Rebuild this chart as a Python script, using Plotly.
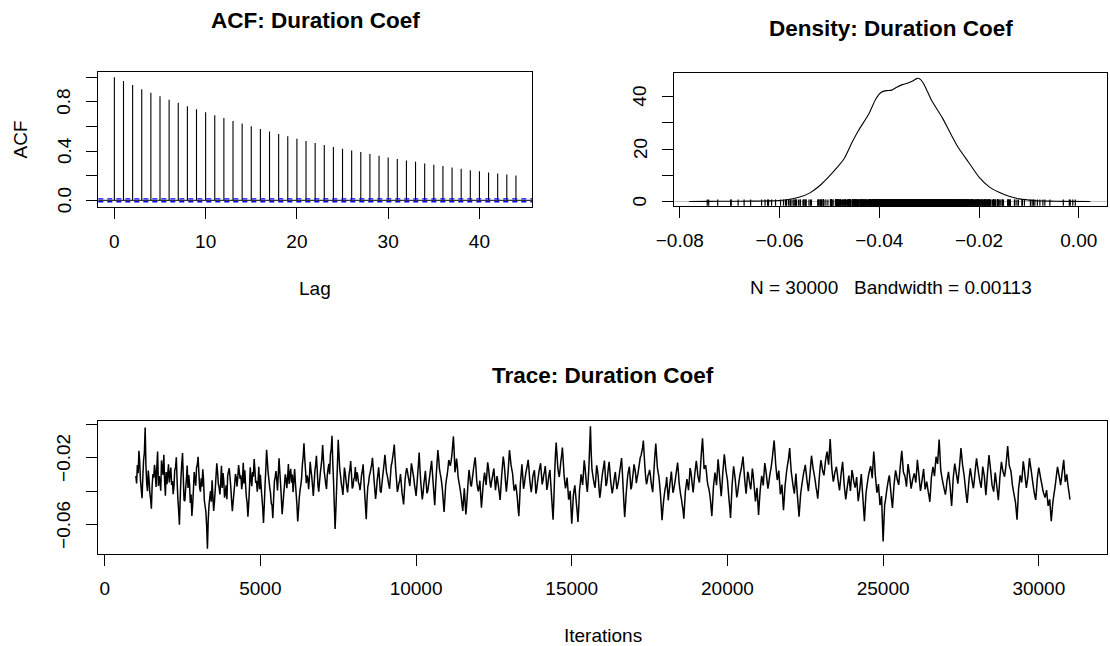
import plotly.graph_objects as go

# ---------------- data ----------------
acf_lags = list(range(0, 45))
acf_values = [1.000, 0.969, 0.936, 0.903, 0.873, 0.846, 0.816, 0.792, 0.765, 0.740,
              0.716, 0.691, 0.669, 0.645, 0.623, 0.601, 0.580, 0.558, 0.539, 0.520,
              0.501, 0.482, 0.465, 0.449, 0.433, 0.419, 0.405, 0.392, 0.376, 0.362,
              0.348, 0.335, 0.324, 0.313, 0.299, 0.288, 0.278, 0.267, 0.256, 0.245,
              0.237, 0.226, 0.218, 0.210, 0.201]
acf_clim = 0.0113

dens_x = [-0.0781, -0.0740, -0.0700, -0.0660, -0.0620, -0.0589, -0.0561, -0.0539, -0.0519, -0.0502,
          -0.0484, -0.0470, -0.0456, -0.0442, -0.0421, -0.0407, -0.0396, -0.0386, -0.0375, -0.0365,
          -0.0354, -0.0344, -0.0333, -0.0324, -0.0317, -0.0309, -0.0295, -0.0274, -0.0260, -0.0242,
          -0.0221, -0.0200, -0.0179, -0.0161, -0.0140, -0.0119, -0.0091, -0.0060, -0.0030, 0.0023]
dens_y = [0.0, 0.05, 0.1, 0.15, 0.25, 0.6, 1.6, 3.3, 6.1, 9.3,
          13.1, 16.5, 22.0, 27.0, 33.4, 39.1, 41.7, 42.3, 42.5, 43.6,
          44.6, 45.1, 46.0, 47.0, 46.5, 44.2, 38.5, 32.1, 27.0, 20.7,
          15.0, 9.3, 5.5, 3.6, 2.0, 1.0, 0.4, 0.15, 0.05, 0.0]
rug_tails = [-0.0745, -0.0724, -0.0697, -0.0683, -0.0671, -0.0658, -0.0636, -0.0629, -0.0622, -0.0616,
             -0.0078, -0.0058, -0.0031, -0.0017, -0.0007]

# trace samples read on a 50-iteration grid ...
iterations_a = [1001] + list(range(1050, 31001, 50))
trace_values_a = [
    -0.0307,
    -0.0243, -0.0158, -0.0336, -0.0441, -0.0214, -0.0019, -0.0352, -0.0275, -0.0408, -0.0503, -0.0297, -0.0241, -0.0374, -0.0162, -0.0309, -0.0396, -0.0263, -0.0181, -0.0425, -0.0357,
    -0.0238, -0.0294, -0.0361, -0.0417, -0.0272, -0.0196, -0.0443, -0.0598, -0.0315, -0.0171, -0.0452, -0.0384, -0.0246, -0.0303, -0.0469, -0.0547, -0.0392, -0.0335, -0.0257, -0.0193,
    -0.0377, -0.0322, -0.0268, -0.0454, -0.0521, -0.0742, -0.0483, -0.0398, -0.0334, -0.0516, -0.0389, -0.0232, -0.0355, -0.0418, -0.0247, -0.0291, -0.0437, -0.0364, -0.0306, -0.0262,
    -0.0373, -0.0518, -0.0412, -0.0296, -0.0371, -0.0243, -0.0325, -0.0387, -0.0229, -0.0274, -0.0433, -0.0551, -0.0379, -0.0328, -0.0284, -0.0207, -0.0349, -0.0402, -0.0253, -0.0301,
    -0.0436, -0.0588, -0.0363, -0.0152, -0.0289, -0.0376, -0.0471, -0.0559, -0.0342, -0.0278, -0.0394, -0.0203, -0.0357, -0.0536, -0.0413, -0.0298, -0.0381, -0.0237, -0.0292, -0.0348,
    -0.0404, -0.0266, -0.0415, -0.0579, -0.0438, -0.0362, -0.0239, -0.0113, -0.0273, -0.0305, -0.0386, -0.0224, -0.0312, -0.0427, -0.0281, -0.0188, -0.0366, -0.0343, -0.0251, -0.0124,
    -0.0283, -0.0358, -0.0301, -0.0236, -0.0178, -0.0068, -0.0339, -0.0624, -0.0376, -0.0092, -0.0269, -0.0353, -0.0421, -0.0258, -0.0334, -0.0406, -0.0297, -0.0219, -0.0383, -0.0327,
    -0.0254, -0.0286, -0.0347, -0.0393, -0.0302, -0.0238, -0.0414, -0.0566, -0.0372, -0.0308, -0.0263, -0.0199, -0.0331, -0.0445, -0.0337, -0.0256, -0.0398, -0.0362, -0.0274, -0.0182,
    -0.0287, -0.0332, -0.0384, -0.0248, -0.0196, -0.0121, -0.0279, -0.0403, -0.0351, -0.0296, -0.0409, -0.0478, -0.0326, -0.0261, -0.0314, -0.0368, -0.0233, -0.0289, -0.0359, -0.0427,
    -0.0304, -0.0168, -0.0343, -0.0448, -0.0356, -0.0277, -0.0411, -0.0363, -0.0292, -0.0218, -0.0354, -0.0482, -0.0299, -0.0153, -0.0264, -0.0318, -0.0397, -0.0523, -0.0366, -0.0302,
    -0.0213, -0.0247, -0.0184, -0.0072, -0.0286, -0.0204, -0.0313, -0.0369, -0.0432, -0.0517, -0.0381, -0.0538, -0.0407, -0.0272, -0.0358, -0.0334, -0.0259, -0.0197, -0.0341, -0.0399,
    -0.0336, -0.0497, -0.0373, -0.0288, -0.0362, -0.0226, -0.0304, -0.0378, -0.0317, -0.0263, -0.0392, -0.0309, -0.0374, -0.0451, -0.0306, -0.0192, -0.0281, -0.0401, -0.0297, -0.0154,
    -0.0242, -0.0293, -0.0396, -0.0358, -0.0434, -0.0548, -0.0352, -0.0238, -0.0384, -0.0323, -0.0267, -0.0212, -0.0329, -0.0405, -0.0311, -0.0273, -0.0413, -0.0346, -0.0279, -0.0232,
    -0.0358, -0.0303, -0.0249, -0.0391, -0.0327, -0.0271, -0.0422, -0.0569, -0.0302, -0.0109, -0.0253, -0.0314, -0.0221, -0.0138, -0.0294, -0.0382, -0.0318, -0.0449, -0.0396, -0.0592,
    -0.0428, -0.0364, -0.0473, -0.0582, -0.0393, -0.0298, -0.0361, -0.0214, -0.0307, -0.0403, -0.0258, -0.0012, -0.0269, -0.0332, -0.0378, -0.0244, -0.0311, -0.0438, -0.0353, -0.0276,
    -0.0216, -0.0368, -0.0308, -0.0223, -0.0339, -0.0412, -0.0347, -0.0284, -0.0386, -0.0338, -0.0268, -0.0201, -0.0377, -0.0553, -0.0409, -0.0301, -0.0252, -0.0388, -0.0326, -0.0239,
    -0.0292, -0.0319, -0.0262, -0.0198, -0.0163, -0.0097, -0.0254, -0.0357, -0.0303, -0.0271, -0.0346, -0.0404, -0.0243, -0.0114, -0.0257, -0.0312, -0.0419, -0.0571, -0.0457, -0.0384,
    -0.0314, -0.0453, -0.0359, -0.0282, -0.0408, -0.0363, -0.0296, -0.0228, -0.0351, -0.0423, -0.0484, -0.0562, -0.0398, -0.0327, -0.0393, -0.0261, -0.0322, -0.0406, -0.0299, -0.0217,
    -0.0306, -0.0347, -0.0209, -0.0083, -0.0266, -0.0243, -0.0334, -0.0381, -0.0442, -0.0547, -0.0376, -0.0287, -0.0363, -0.0208, -0.0316, -0.0429, -0.0291, -0.0179, -0.0272, -0.0331,
    -0.0447, -0.0558, -0.0362, -0.0251, -0.0328, -0.0436, -0.0374, -0.0303, -0.0259, -0.0192, -0.0319, -0.0414, -0.0283, -0.0336, -0.0387, -0.0264, -0.0351, -0.0459, -0.0379, -0.0541,
    -0.0398, -0.0307, -0.0364, -0.0231, -0.0298, -0.0383, -0.0318, -0.0262, -0.0186, -0.0096, -0.0238, -0.0332, -0.0276, -0.0417, -0.0359, -0.0512, -0.0368, -0.0281, -0.0223, -0.0141,
    -0.0284, -0.0357, -0.0413, -0.0293, -0.0431, -0.0551, -0.0418, -0.0349, -0.0288, -0.0242, -0.0327, -0.0399, -0.0302, -0.0187, -0.0261, -0.0313, -0.0381, -0.0443, -0.0319, -0.0214,
    -0.0268, -0.0304, -0.0218, -0.0163, -0.0241, -0.0088, -0.0257, -0.0342, -0.0286, -0.0253, -0.0329, -0.0394, -0.0297, -0.0224, -0.0362, -0.0448, -0.0371, -0.0306, -0.0397, -0.0273,
    -0.0332, -0.0377, -0.0314, -0.0458, -0.0389, -0.0296, -0.0436, -0.0577, -0.0412, -0.0343, -0.0287, -0.0249, -0.0321, -0.0162, -0.0303, -0.0408, -0.0356, -0.0482, -0.0428, -0.0698,
    -0.0479, -0.0418, -0.0353, -0.0304, -0.0407, -0.0498, -0.0362, -0.0274, -0.0326, -0.0361, -0.0252, -0.0158, -0.0283, -0.0308, -0.0372, -0.0237, -0.0301, -0.0384, -0.0328, -0.0292,
    -0.0347, -0.0212, -0.0303, -0.0397, -0.0334, -0.0266, -0.0388, -0.0341, -0.0403, -0.0462, -0.0318, -0.0254, -0.0309, -0.0193, -0.0236, -0.0091, -0.0272, -0.0329, -0.0376, -0.0419,
    -0.0338, -0.0283, -0.0369, -0.0487, -0.0323, -0.0234, -0.0291, -0.0354, -0.0258, -0.0142, -0.0239, -0.0302, -0.0392, -0.0468, -0.0348, -0.0262, -0.0327, -0.0381, -0.0289, -0.0203,
    -0.0271, -0.0333, -0.0378, -0.0252, -0.0309, -0.0423, -0.0297, -0.0183, -0.0268, -0.0364, -0.0401, -0.0288, -0.0367, -0.0452, -0.0316, -0.0224, -0.0281, -0.0312, -0.0237, -0.0129,
    -0.0244, -0.0273, -0.0358, -0.0414, -0.0463, -0.0568, -0.0386, -0.0304, -0.0347, -0.0221, -0.0294, -0.0379, -0.0313, -0.0202, -0.0267, -0.0339, -0.0404, -0.0451, -0.0326, -0.0258,
    -0.0312, -0.0359, -0.0408, -0.0437, -0.0392, -0.0486, -0.0447, -0.0578, -0.0469, -0.0401, -0.0331, -0.0253, -0.0306, -0.0363, -0.0287, -0.0212, -0.0343, -0.0298, -0.0381, -0.0449,
]
# ... and the samples in between (iterations 1025, 1075, ..., 30975)
iterations_b = list(range(1025, 31000, 50))
trace_values_b = [
    -0.0352, -0.0291, -0.0227, -0.0389, -0.0312, -0.0168, -0.0246, -0.0398, -0.0331, -0.0447, -0.0362, -0.0318, -0.0289, -0.0253, -0.0367, -0.0341, -0.0215, -0.0302, -0.0336, -0.0284,
    -0.0296, -0.0347, -0.0258, -0.0338, -0.0371, -0.0259, -0.0333, -0.0512, -0.0442, -0.0236, -0.0317, -0.0458, -0.0325, -0.0379, -0.0356, -0.0418, -0.0481, -0.0284, -0.0366, -0.0241,
    -0.0289, -0.0401, -0.0372, -0.0331, -0.0487, -0.0608, -0.0573, -0.0437, -0.0461, -0.0428, -0.0462, -0.0311, -0.0284, -0.0376, -0.0352, -0.0379, -0.0338, -0.0412, -0.0447, -0.0283,
    -0.0314, -0.0452, -0.0463, -0.0357, -0.0319, -0.0318, -0.0284, -0.0304, -0.0346, -0.0352, -0.0361, -0.0468, -0.0474, -0.0256, -0.0369, -0.0312, -0.0271, -0.0336, -0.0348, -0.0387,
    -0.0376, -0.0497, -0.0484, -0.0266, -0.0222, -0.0331, -0.0409, -0.0483, -0.0447, -0.0316, -0.0327, -0.0298, -0.0284, -0.0447, -0.0479, -0.0361, -0.0326, -0.0318, -0.0356, -0.0265,
    -0.0299, -0.0338, -0.0349, -0.0484, -0.0512, -0.0391, -0.0318, -0.0192, -0.0204, -0.0351, -0.0322, -0.0317, -0.0274, -0.0366, -0.0358, -0.0242, -0.0268, -0.0402, -0.0291, -0.0207,
    -0.0206, -0.0317, -0.0386, -0.0264, -0.0297, -0.0151, -0.0226, -0.0487, -0.0507, -0.0243, -0.0181, -0.0308, -0.0381, -0.0349, -0.0289, -0.0372, -0.0353, -0.0268, -0.0294, -0.0371,
    -0.0318, -0.0341, -0.0302, -0.0358, -0.0351, -0.0277, -0.0326, -0.0487, -0.0449, -0.0351, -0.0289, -0.0241, -0.0262, -0.0386, -0.0401, -0.0297, -0.0321, -0.0408, -0.0316, -0.0231,
    -0.0233, -0.0304, -0.0362, -0.0317, -0.0229, -0.0163, -0.0202, -0.0336, -0.0382, -0.0336, -0.0352, -0.0441, -0.0402, -0.0287, -0.0282, -0.0339, -0.0304, -0.0258, -0.0318, -0.0391,
    -0.0371, -0.0241, -0.0262, -0.0396, -0.0412, -0.0318, -0.0347, -0.0398, -0.0328, -0.0254, -0.0286, -0.0419, -0.0386, -0.0227, -0.0201, -0.0293, -0.0352, -0.0461, -0.0447, -0.0328,
    -0.0262, -0.0229, -0.0221, -0.0128, -0.0167, -0.0253, -0.0246, -0.0341, -0.0398, -0.0476, -0.0452, -0.0463, -0.0481, -0.0336, -0.0308, -0.0371, -0.0297, -0.0224, -0.0262, -0.0378,
    -0.0372, -0.0421, -0.0436, -0.0327, -0.0322, -0.0294, -0.0256, -0.0347, -0.0342, -0.0289, -0.0327, -0.0352, -0.0338, -0.0412, -0.0379, -0.0248, -0.0226, -0.0346, -0.0353, -0.0228,
    -0.0196, -0.0268, -0.0348, -0.0381, -0.0392, -0.0497, -0.0461, -0.0298, -0.0306, -0.0362, -0.0291, -0.0243, -0.0264, -0.0368, -0.0362, -0.0289, -0.0336, -0.0388, -0.0313, -0.0254,
    -0.0294, -0.0337, -0.0281, -0.0313, -0.0368, -0.0294, -0.0348, -0.0496, -0.0452, -0.0188, -0.0176, -0.0289, -0.0271, -0.0187, -0.0211, -0.0343, -0.0356, -0.0381, -0.0434, -0.0497,
    -0.0516, -0.0392, -0.0418, -0.0521, -0.0497, -0.0351, -0.0327, -0.0292, -0.0253, -0.0362, -0.0341, -0.0137, -0.0171, -0.0302, -0.0359, -0.0317, -0.0273, -0.0379, -0.0406, -0.0311,
    -0.0249, -0.0293, -0.0352, -0.0261, -0.0278, -0.0376, -0.0384, -0.0311, -0.0337, -0.0364, -0.0303, -0.0236, -0.0282, -0.0471, -0.0486, -0.0353, -0.0276, -0.0318, -0.0371, -0.0287,
    -0.0263, -0.0351, -0.0297, -0.0231, -0.0187, -0.0139, -0.0178, -0.0316, -0.0338, -0.0296, -0.0301, -0.0378, -0.0326, -0.0171, -0.0189, -0.0288, -0.0364, -0.0493, -0.0512, -0.0417,
    -0.0362, -0.0387, -0.0404, -0.0321, -0.0346, -0.0391, -0.0331, -0.0262, -0.0286, -0.0389, -0.0447, -0.0512, -0.0478, -0.0364, -0.0358, -0.0334, -0.0281, -0.0367, -0.0354, -0.0258,
    -0.0257, -0.0328, -0.0282, -0.0142, -0.0168, -0.0259, -0.0282, -0.0364, -0.0408, -0.0496, -0.0461, -0.0331, -0.0322, -0.0287, -0.0259, -0.0372, -0.0368, -0.0236, -0.0221, -0.0302,
    -0.0388, -0.0497, -0.0461, -0.0302, -0.0287, -0.0381, -0.0412, -0.0337, -0.0281, -0.0226, -0.0254, -0.0368, -0.0352, -0.0297, -0.0364, -0.0329, -0.0297, -0.0404, -0.0418, -0.0458,
    -0.0466, -0.0352, -0.0331, -0.0298, -0.0262, -0.0341, -0.0356, -0.0287, -0.0227, -0.0142, -0.0163, -0.0286, -0.0304, -0.0348, -0.0391, -0.0437, -0.0443, -0.0326, -0.0247, -0.0182,
    -0.0217, -0.0318, -0.0386, -0.0352, -0.0367, -0.0488, -0.0487, -0.0381, -0.0317, -0.0268, -0.0283, -0.0362, -0.0351, -0.0243, -0.0222, -0.0287, -0.0344, -0.0406, -0.0387, -0.0262,
    -0.0236, -0.0289, -0.0262, -0.0188, -0.0204, -0.0163, -0.0173, -0.0301, -0.0318, -0.0272, -0.0288, -0.0363, -0.0348, -0.0258, -0.0291, -0.0406, -0.0412, -0.0338, -0.0352, -0.0336,
    -0.0297, -0.0356, -0.0352, -0.0387, -0.0426, -0.0341, -0.0371, -0.0511, -0.0493, -0.0376, -0.0312, -0.0268, -0.0281, -0.0238, -0.0227, -0.0354, -0.0387, -0.0418, -0.0461, -0.0567,
    -0.0586, -0.0453, -0.0382, -0.0326, -0.0354, -0.0457, -0.0431, -0.0318, -0.0297, -0.0342, -0.0308, -0.0203, -0.0216, -0.0297, -0.0338, -0.0306, -0.0268, -0.0341, -0.0357, -0.0311,
    -0.0318, -0.0283, -0.0256, -0.0352, -0.0368, -0.0301, -0.0326, -0.0367, -0.0371, -0.0428, -0.0396, -0.0287, -0.0281, -0.0252, -0.0213, -0.0162, -0.0178, -0.0301, -0.0352, -0.0398,
    -0.0387, -0.0311, -0.0326, -0.0428, -0.0412, -0.0278, -0.0262, -0.0322, -0.0306, -0.0201, -0.0188, -0.0271, -0.0347, -0.0432, -0.0412, -0.0301, -0.0294, -0.0356, -0.0342, -0.0246,
    -0.0238, -0.0302, -0.0357, -0.0318, -0.0281, -0.0366, -0.0364, -0.0241, -0.0227, -0.0317, -0.0382, -0.0348, -0.0327, -0.0406, -0.0389, -0.0271, -0.0253, -0.0296, -0.0278, -0.0186,
    -0.0187, -0.0262, -0.0311, -0.0387, -0.0438, -0.0512, -0.0483, -0.0347, -0.0322, -0.0286, -0.0252, -0.0337, -0.0346, -0.0258, -0.0236, -0.0302, -0.0371, -0.0428, -0.0397, -0.0291,
    -0.0284, -0.0337, -0.0386, -0.0421, -0.0416, -0.0441, -0.0468, -0.0512, -0.0523, -0.0432, -0.0368, -0.0292, -0.0278, -0.0331, -0.0328, -0.0249, -0.0276, -0.0322, -0.0346, -0.0412,
]
assert len(iterations_a) == len(trace_values_a)
assert len(iterations_b) == len(trace_values_b)

acf_xticks = [0, 10, 20, 30, 40]
acf_yticks = [0.0, 0.2, 0.4, 0.6, 0.8, 1.0]
acf_ylabels = [0.0, 0.4, 0.8]
dens_xticks = [-0.08, -0.06, -0.04, -0.02, 0.00]
dens_xtext = ["\u22120.08", "\u22120.06", "\u22120.04", "\u22120.02", "0.00"]
dens_yticks = [0, 10, 20, 30, 40]
dens_ylabels = [0, 20, 40]
trace_xticks = [0, 5000, 10000, 15000, 20000, 25000, 30000]
trace_xtext = ["0", "5000", "10000", "15000", "20000", "25000", "30000"]
trace_yticks = [-0.06, -0.04, -0.02, 0.00]
trace_ylabels = [-0.06, -0.02]

# merge the two sample grids in iteration order
merged = sorted(zip(iterations_a + iterations_b, trace_values_a + trace_values_b))
iterations = [m[0] for m in merged]
trace_values = [m[1] for m in merged]

# ---------------- figure ----------------
W, H = 1110, 646
FONT = "Liberation Sans, Arial, Helvetica, sans-serif"
TICK_SIZE = 19
TITLE_SIZE = 22.5

fig = go.Figure()

# ACF spikes
sx, sy = [], []
for lag, v in zip(acf_lags, acf_values):
    sx += [lag, lag, None]
    sy += [0, v, None]
fig.add_trace(go.Scatter(x=sx, y=sy, mode="lines", line=dict(color="black", width=1.1),
                         xaxis="x", yaxis="y", hoverinfo="skip"))

# Density curve
fig.add_trace(go.Scatter(x=dens_x, y=dens_y, mode="lines",
                         line=dict(color="black", width=1.1, shape="spline", smoothing=0.6),
                         xaxis="x2", yaxis="y2", hoverinfo="skip"))
# Rug
rug_vals = trace_values + rug_tails
fig.add_trace(go.Scatter(x=rug_vals, y=[-0.85] * len(rug_vals), mode="markers",
                         marker=dict(symbol="line-ns-open", size=6, color="black",
                                     line=dict(width=1.2, color="black")),
                         xaxis="x2", yaxis="y2", hoverinfo="skip"))

# Trace
fig.add_trace(go.Scatter(x=iterations, y=trace_values, mode="lines",
                         line=dict(color="black", width=1.5, simplify=False),
                         xaxis="x3", yaxis="y3", hoverinfo="skip"))

def px_x(p):
    return p / W

def px_y(p):
    return 1 - p / H

axis_common = dict(showline=True, mirror=True, linecolor="black", linewidth=1.1,
                   ticks="outside", ticklen=11, tickwidth=1.1, tickcolor="black",
                   showgrid=False, zeroline=False, automargin=False,
                   tickfont=dict(family=FONT, size=TICK_SIZE, color="black"))
xstand = dict(ticklabelstandoff=6)

fig.update_layout(
    template="none",
    width=W, height=H, autosize=False,
    margin=dict(l=0, r=0, t=0, b=0, pad=0),
    paper_bgcolor="white", plot_bgcolor="white",
    showlegend=False,
    font=dict(family=FONT, size=TICK_SIZE, color="black"),
    xaxis=dict(domain=[px_x(98.3), px_x(532)], range=[-1.76, 45.76],
               tickvals=acf_xticks, anchor="y", **axis_common, **xstand),
    yaxis=dict(domain=[px_y(206.7), px_y(72.3)], range=[-0.052, 1.040],
               tickvals=acf_yticks, showticklabels=False, anchor="x", **axis_common),
    xaxis2=dict(domain=[px_x(674.3), px_x(1106.7)], range=[-0.0811, 0.0056],
                tickvals=dens_xticks, ticktext=dens_xtext, anchor="y2", **axis_common, **xstand),
    yaxis2=dict(domain=[px_y(205.7), px_y(72.7)], range=[-1.6, 49.15],
                tickvals=dens_yticks, showticklabels=False, anchor="x2", **axis_common),
    xaxis3=dict(domain=[px_x(98.3), px_x(1107.3)], range=[-205, 32200],
                tickvals=trace_xticks, ticktext=trace_xtext, anchor="y3", **axis_common, **xstand),
    yaxis3=dict(domain=[px_y(554.3), px_y(421)], range=[-0.0775, 0.0020],
                tickvals=trace_yticks, showticklabels=False, anchor="x3", **axis_common),
)

# reference lines
fig.add_shape(type="line", xref="x domain", yref="y", x0=0, x1=1, y0=0, y1=0,
              line=dict(color="black", width=1))
for c in (acf_clim, -acf_clim):
    fig.add_shape(type="line", xref="x domain", yref="y", x0=0, x1=1, y0=c, y1=c,
                  line=dict(color="#0000FF", width=1.4, dash="5px,4px"))
fig.add_shape(type="line", xref="x2 domain", yref="y2", x0=0, x1=1, y0=0, y1=0,
              line=dict(color="#BEBEBE", width=1), layer="below")

# rotated y tick labels (R style, parallel to the axis)
def ylab(vals, fmt, xpix, yref):
    for v in vals:
        txt = fmt.format(v).replace("-", "\u2212")
        fig.add_annotation(text=txt, x=px_x(xpix), y=v, xref="paper", yref=yref,
                           xanchor="center", yanchor="middle", showarrow=False, textangle=-90,
                           font=dict(family=FONT, size=TICK_SIZE, color="black"))

ylab(acf_ylabels, "{:.1f}", 64, "y")
ylab(dens_ylabels, "{:d}", 640, "y2")
ylab(trace_ylabels, "{:.2f}", 64, "y3")

def ann(text, x, y, size=TICK_SIZE, bold=False, angle=0):
    fig.add_annotation(text=("<b>%s</b>" % text) if bold else text,
                       x=px_x(x), y=px_y(y), xref="paper", yref="paper",
                       xanchor="center", yanchor="middle", showarrow=False,
                       textangle=angle, font=dict(family=FONT, size=size, color="black"))

ann("ACF: Duration Coef", 315, 20, size=TITLE_SIZE, bold=True)
ann("Density: Duration Coef", 890.5, 28, size=TITLE_SIZE, bold=True)
ann("Trace: Duration Coef", 603, 376, size=TITLE_SIZE, bold=True)
ann("Lag", 315, 288)
ann("ACF", 20, 139.5, angle=-90)
ann("N = 30000\u00a0\u00a0\u00a0Bandwidth = 0.00113", 890.5, 287)
ann("Iterations", 603, 635)

fig.write_html("out.html", include_plotlyjs=True, config={"displayModeBar": False},
               post_script="document.body.style.margin='0px';document.body.style.overflow='hidden';")
